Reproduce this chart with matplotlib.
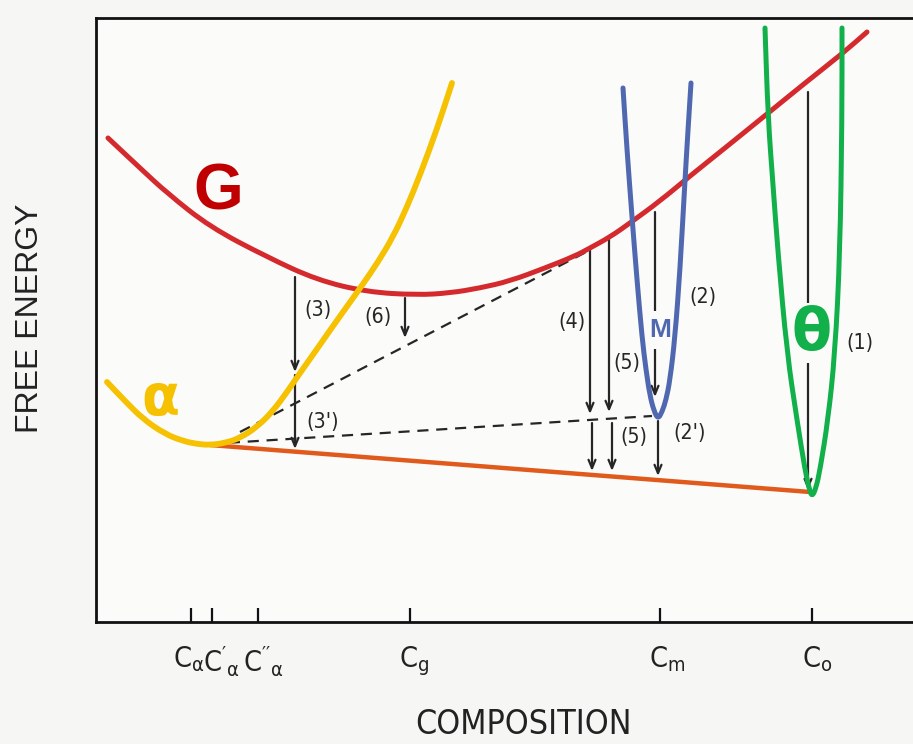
import matplotlib.pyplot as plt
from matplotlib import font_manager
from matplotlib.path import Path
from matplotlib.patches import PathPatch
from matplotlib.transforms import ScaledTranslation

# pick a narrow sans for the lettering (the scan uses a condensed grotesque)
fonts = font_manager.fontManager.ttflist
if any(f.name == 'Liberation Sans Narrow' for f in fonts):
    narrow = dict(family='Liberation Sans Narrow')
    math_rm = 'Liberation Sans Narrow'
    squeeze = 1.0
elif any(f.name == 'DejaVu Sans' and f.stretch == 'condensed' for f in fonts):
    narrow = dict(family='DejaVu Sans', stretch='condensed')
    math_rm = 'DejaVu Sans:stretch=condensed'
    squeeze = 0.9
else:
    narrow = dict(family='Liberation Sans')
    math_rm = 'Liberation Sans'
    squeeze = 0.82

plt.rcParams['font.family'] = ['Liberation Sans', 'DejaVu Sans']
plt.rcParams['mathtext.fontset'] = 'custom'
plt.rcParams['mathtext.rm'] = math_rm
plt.rcParams['mathtext.it'] = math_rm

# free energy curves: composition (x) against free energy (y), arbitrary units
g_comp = [108, 140, 167, 210, 267, 317, 367, 417, 450, 480, 510, 545, 575, 590, 610,
          630, 660, 690, 725, 767, 805, 843, 867]
g_energy = [484, 454, 429, 395, 365, 342, 330, 327, 329, 334, 341, 354, 366, 374, 385,
            399, 421, 446, 474, 508, 539, 569, 590]

alpha_comp = [107, 125, 143, 165, 183, 197, 210, 225, 240, 257, 273, 287, 300, 317, 333,
              348, 363, 378, 393, 407, 420, 437, 452]
alpha_energy = [240, 221, 203, 188, 181, 178, 177, 179, 184, 195, 211, 230, 249, 273, 296,
                317, 338, 360, 385, 415, 447, 493, 539]

m_comp = [623, 627, 632, 637, 642, 646, 650, 654, 658, 662, 666, 670, 675, 680, 685, 688, 691]
m_energy = [534, 472, 405, 342, 285, 252, 226, 211, 203, 210, 222, 242, 285, 352, 442, 492, 539]

theta_comp = [765, 768, 773, 778, 787, 797, 805, 809, 812, 816, 820, 828, 835, 840, 842, 842]
theta_energy = [594, 505, 437, 369, 269, 202, 152, 134, 125, 134, 152, 202, 269, 369, 505, 594]

# common tangent alpha + theta
tangent_comp = [210, 810]
tangent_energy = [177, 130]

# dashed construction lines
dash_upper_comp = [240, 590]
dash_upper_energy = [190, 372]
dash_lower_comp = [210, 652]
dash_lower_energy = [178, 206]

# composition ticks
tick_comp = [191, 212, 258, 410, 660, 812]
tick_labels = [r'$\mathrm{C_\alpha}$', r"$\mathrm{C'_\alpha}$", r"$\mathrm{C''_\alpha}$",
               r'$\mathrm{C_g}$', r'$\mathrm{C_m}$', r'$\mathrm{C_o}$']

# free energy drops (arrows)
drop_comp = [808, 655, 658, 295, 295, 590, 592, 609, 612, 405]
drop_from = [530, 410, 201, 345, 247, 373, 199, 384, 199, 324]
drop_to = [132, 225, 146, 250, 173, 208, 151, 210, 151, 284]

label_text = ['(1)', '(2)', "(2')", '(3)', "(3')", '(4)', '(5)', '(5)', '(6)']
label_comp = [860, 703, 690, 318, 323, 572, 627, 634, 378]
label_energy = [279, 325, 189, 312, 200, 300, 259, 185, 305]

paper = '#f6f6f4'
inside = '#fbfbfa'
red = '#d42a2e'
yellow = '#f5c100'
blue = '#5068b0'
green = '#12b04a'
orange = '#e05a1c'
ink = '#262626'


def smooth(ax, xs, ys, **kw):
    # quadratic bezier through the midpoints, read points act as control points
    verts = [(xs[0], ys[0])]
    codes = [Path.MOVETO]
    verts.append(((xs[0] + xs[1]) / 2, (ys[0] + ys[1]) / 2))
    codes.append(Path.LINETO)
    for i in range(1, len(xs) - 1):
        verts += [(xs[i], ys[i]), ((xs[i] + xs[i + 1]) / 2, (ys[i] + ys[i + 1]) / 2)]
        codes += [Path.CURVE3, Path.CURVE3]
    verts.append((xs[-1], ys[-1]))
    codes.append(Path.LINETO)
    ax.add_patch(PathPatch(Path(verts, codes), fill=False, capstyle='round',
                           joinstyle='round', **kw))


fig = plt.figure(figsize=(9.13, 7.44), dpi=100, facecolor=paper)
ax = fig.add_axes([96 / 913, 122 / 744, 817 / 913, 604 / 744], facecolor=inside)
ax.set_xlim(96, 913)
ax.set_ylim(0, 604)

for i in range(len(drop_comp)):
    ax.annotate('', xy=(drop_comp[i], drop_to[i]), xytext=(drop_comp[i], drop_from[i]),
                arrowprops=dict(arrowstyle='->,head_length=0.6,head_width=0.25',
                                color=ink, lw=1.6, shrinkA=0, shrinkB=0), zorder=2)

ax.plot(dash_upper_comp, dash_upper_energy, color=ink, lw=1.6, ls=(0, (5, 3.5)), zorder=2)
ax.plot(dash_lower_comp, dash_lower_energy, color=ink, lw=1.6, ls=(0, (5, 3.5)), zorder=2)

for t, x, y in zip(label_text, label_comp, label_energy):
    ax.text(x, y, t, fontsize=17 * squeeze, color=ink, ha='center', va='center', zorder=3,
            **narrow)

ax.text(660, 292, 'M', fontsize=19, color=blue, fontweight='bold', family='Liberation Sans',
        ha='center', va='center', zorder=4, bbox=dict(fc=inside, ec='none', pad=5))
ax.text(812, 289, 'θ', fontsize=42, color=green, fontweight='bold', family='DejaVu Sans',
        ha='center', va='center', zorder=4, bbox=dict(fc=inside, ec='none', pad=1))
ax.text(218, 430, 'G', fontsize=46, color='#c00000', fontweight='bold',
        family='Liberation Sans', ha='center', va='center', zorder=4)
ax.text(160, 222, 'α', fontsize=40, color=yellow, fontweight='bold', family='DejaVu Sans',
        ha='center', va='center', zorder=4)

ax.plot(tangent_comp, tangent_energy, color=orange, lw=3.2, solid_capstyle='butt', zorder=5)
smooth(ax, g_comp, g_energy, ec=red, lw=3.6, zorder=5)
smooth(ax, m_comp, m_energy, ec=blue, lw=3.6, zorder=5)
smooth(ax, theta_comp, theta_energy, ec=green, lw=3.6, zorder=5)
smooth(ax, alpha_comp, alpha_energy, ec=yellow, lw=4.2, zorder=6)

ax.spines['right'].set_visible(False)
for s in ['left', 'top', 'bottom']:
    ax.spines[s].set_linewidth(2.0)
    ax.spines[s].set_color('#111111')

ax.set_yticks([])
ax.set_xticks(tick_comp)
ax.set_xticklabels(tick_labels)
ax.tick_params(axis='x', direction='in', length=10, width=1.6, pad=16,
               labelsize=23 * squeeze, color='#111111', labelcolor='#222222')
offsets = [-2, 7, 4, 3, 5, 4]
for lab, dx in zip(ax.get_xticklabels(), offsets):
    lab.set_transform(lab.get_transform() + ScaledTranslation(dx / 72, 0, fig.dpi_scale_trans))

fig.text(30 / 913, 1 - 318 / 744, 'FREE ENERGY', rotation=90, fontsize=23,
         family='Liberation Sans', color='#222222', ha='center', va='center')
fig.text(523 / 913, 1 - 725 / 744, 'COMPOSITION', fontsize=27 * squeeze, color='#222222',
         ha='center', va='center', **narrow)

fig.savefig('out.png', dpi=100, facecolor=paper)
